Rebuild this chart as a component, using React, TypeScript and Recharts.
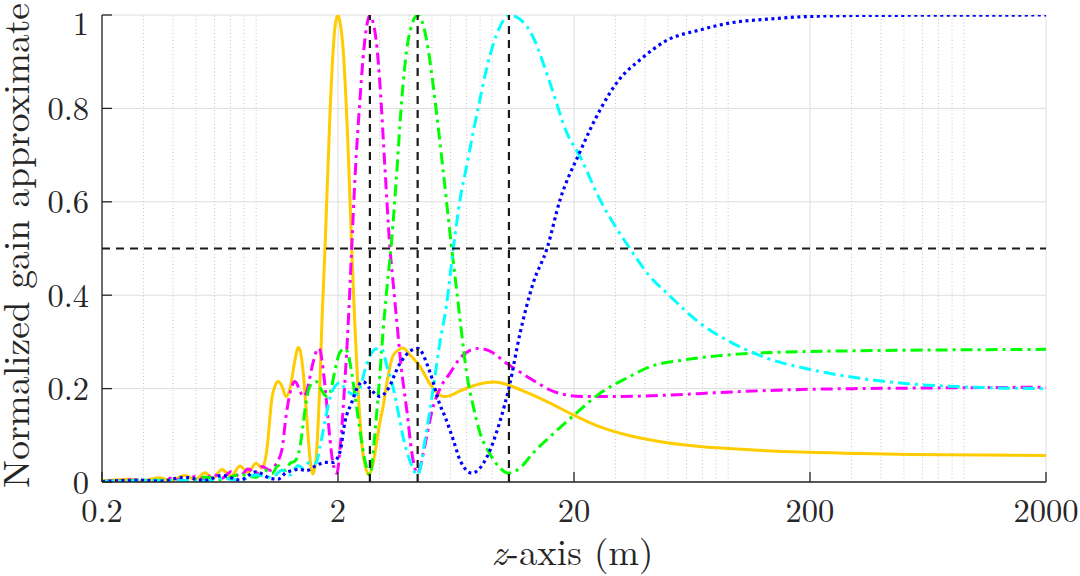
import React from 'react';
import { LineChart, Line, XAxis, YAxis, CartesianGrid, ReferenceLine } from 'recharts';

type P = [number, number];

// z-axis (m) tick values and gain tick values
const xTicks = [0.2, 2, 20, 200, 2000];
const yTicks = [0, 0.2, 0.4, 0.6, 0.8, 1];
const xMinor = [
  0.3, 0.4, 0.5, 0.6, 0.7, 0.8, 0.9,
  3, 4, 5, 6, 7, 8, 9,
  30, 40, 50, 60, 70, 80, 90,
  300, 400, 500, 600, 700, 800, 900,
];
// vertical dashed markers (z) and horizontal dashed level (gain)
const focusZ = [2.73, 4.35, 10.6];
const halfGain = 0.5;

// [z, normalized gain]
const goldSeries: P[] = [
  [0.2, 0.002], [0.263, 0.006], [0.29, 0.002], [0.352, 0.009], [0.388, 0.003], [0.449, 0.014],
  [0.496, 0.005], [0.546, 0.02], [0.59, 0.008], [0.645, 0.027], [0.704, 0.013], [0.769, 0.034],
  [0.831, 0.02], [0.899, 0.04], [0.953, 0.03], [0.981, 0.045], [1.01, 0.09], [1.03, 0.14],
  [1.05, 0.18], [1.081, 0.205], [1.114, 0.215], [1.158, 0.205], [1.204, 0.183], [1.252, 0.2],
  [1.315, 0.262], [1.354, 0.288], [1.38, 0.283], [1.421, 0.24], [1.464, 0.16], [1.522, 0.05],
  [1.567, 0.017], [1.614, 0.05], [1.678, 0.22], [1.711, 0.347], [1.762, 0.5], [1.85, 0.79],
  [1.905, 0.92], [1.943, 0.975], [2.0, 1.0], [2.039, 0.985], [2.1, 0.93], [2.205, 0.72],
  [2.286, 0.5], [2.36, 0.33], [2.431, 0.2], [2.553, 0.06], [2.71, 0.015], [2.814, 0.04],
  [3.013, 0.13], [3.102, 0.16], [3.216, 0.21], [3.42, 0.27], [3.662, 0.285], [3.771, 0.287],
  [4.038, 0.272], [4.452, 0.247], [4.908, 0.21], [5.41, 0.186], [5.681, 0.183], [5.965, 0.185],
  [6.576, 0.195], [7.393, 0.205], [8.56, 0.213], [9.2, 0.214], [10.64, 0.207], [11.81, 0.198],
  [13.41, 0.186], [15.83, 0.169], [20, 0.143], [25.8, 0.118], [34.5, 0.099], [49.6, 0.084],
  [68.4, 0.076], [111, 0.069], [181, 0.064], [326, 0.061], [530, 0.059], [2000, 0.057],
];

const magentaSeries: P[] = [
  [0.2, 0.001], [0.29, 0.004], [0.352, 0.002], [0.388, 0.008], [0.449, 0.003], [0.496, 0.012],
  [0.546, 0.005], [0.59, 0.017], [0.645, 0.008], [0.704, 0.022], [0.769, 0.012], [0.831, 0.028],
  [0.899, 0.018], [0.953, 0.033], [1.03, 0.025], [1.097, 0.04], [1.158, 0.07], [1.204, 0.14],
  [1.252, 0.19], [1.315, 0.215], [1.38, 0.195], [1.421, 0.183], [1.464, 0.19], [1.567, 0.255],
  [1.646, 0.286], [1.678, 0.283], [1.711, 0.26], [1.797, 0.16], [1.85, 0.09], [1.905, 0.04],
  [1.98, 0.019], [2.039, 0.07], [2.142, 0.22], [2.205, 0.33], [2.286, 0.5], [2.36, 0.65],
  [2.479, 0.82], [2.578, 0.93], [2.654, 0.98], [2.733, 1.0], [2.814, 0.985], [2.926, 0.93],
  [3.013, 0.85], [3.164, 0.67], [3.321, 0.5], [3.42, 0.43], [3.556, 0.34], [3.698, 0.25],
  [3.922, 0.15], [4.118, 0.06], [4.353, 0.018], [4.452, 0.03], [4.674, 0.08], [5.053, 0.16],
  [5.41, 0.2], [5.965, 0.233], [6.576, 0.265], [7.25, 0.282], [7.862, 0.286], [8.81, 0.28],
  [10.37, 0.254], [11.43, 0.24], [13.41, 0.218], [15.83, 0.197], [18.68, 0.186], [21.8, 0.183],
  [30.4, 0.183], [49.6, 0.186], [94.3, 0.193], [181, 0.198], [530, 0.201], [2000, 0.203],
];

const greenSeries: P[] = [
  [0.2, 0.001], [0.352, 0.004], [0.449, 0.002], [0.546, 0.01], [0.645, 0.005], [0.769, 0.016],
  [0.899, 0.01], [0.981, 0.025], [1.05, 0.018], [1.114, 0.035], [1.204, 0.025], [1.252, 0.04],
  [1.315, 0.045], [1.38, 0.075], [1.421, 0.12], [1.464, 0.17], [1.522, 0.205], [1.614, 0.215],
  [1.711, 0.195], [1.797, 0.183], [1.85, 0.19], [1.943, 0.24], [2.039, 0.278], [2.142, 0.286],
  [2.205, 0.275], [2.293, 0.23], [2.384, 0.17], [2.479, 0.11], [2.603, 0.045], [2.733, 0.015],
  [2.814, 0.06], [2.897, 0.13], [3.013, 0.233], [3.102, 0.32], [3.216, 0.41], [3.377, 0.518],
  [3.523, 0.64], [3.724, 0.818], [3.909, 0.925], [4.118, 0.98], [4.353, 1.0], [4.584, 0.98],
  [4.827, 0.925], [5.152, 0.818], [5.571, 0.67], [6.065, 0.5], [6.368, 0.41], [6.641, 0.33],
  [7.02, 0.233], [7.464, 0.165], [7.993, 0.105], [8.81, 0.06], [9.714, 0.03], [10.53, 0.019],
  [11.81, 0.03], [13.41, 0.062], [15.83, 0.097], [20, 0.143], [25.8, 0.19], [34.2, 0.225],
  [42, 0.247], [57.9, 0.261], [94.3, 0.273], [181, 0.279], [326, 0.281], [2000, 0.284],
];

const cyanSeries: P[] = [
  [0.2, 0.001], [0.449, 0.003], [0.546, 0.002], [0.645, 0.008], [0.769, 0.004], [0.899, 0.015],
  [1.05, 0.01], [1.158, 0.025], [1.252, 0.015], [1.354, 0.035], [1.421, 0.03], [1.522, 0.043],
  [1.614, 0.04], [1.678, 0.076], [1.762, 0.13], [1.85, 0.18], [1.943, 0.205], [2.039, 0.213],
  [2.142, 0.2], [2.286, 0.188], [2.36, 0.186], [2.479, 0.2], [2.603, 0.24], [2.733, 0.27],
  [2.897, 0.285], [3.013, 0.286], [3.102, 0.28], [3.216, 0.25], [3.42, 0.204], [3.662, 0.13],
  [3.771, 0.097], [4.038, 0.045], [4.353, 0.015], [4.674, 0.09], [5.053, 0.197], [5.41, 0.3],
  [5.75, 0.375], [6.161, 0.5], [6.576, 0.604], [7.041, 0.68], [7.464, 0.747], [7.993, 0.82],
  [8.56, 0.889], [9.714, 0.975], [10.64, 1.0], [12.65, 0.975], [13.41, 0.953], [15.83, 0.854],
  [18.68, 0.747], [21.2, 0.697], [25.8, 0.604], [34.5, 0.5], [42, 0.44], [49.6, 0.404],
  [68.4, 0.34], [94.3, 0.297], [131.5, 0.265], [200, 0.241], [326, 0.222], [530, 0.21],
  [864, 0.204], [2000, 0.2],
];

const blueSeries: P[] = [
  [0.2, 0.001], [0.29, 0.004], [0.352, 0.002], [0.449, 0.01], [0.546, 0.003], [0.645, 0.014],
  [0.769, 0.004], [0.899, 0.022], [1.03, 0.008], [1.114, 0.006], [1.204, 0.02], [1.38, 0.027],
  [1.464, 0.024], [1.614, 0.035], [1.762, 0.042], [1.905, 0.042], [2.039, 0.065], [2.142, 0.13],
  [2.286, 0.17], [2.431, 0.205], [2.553, 0.215], [2.733, 0.2], [3.013, 0.183], [3.216, 0.195],
  [3.662, 0.254], [4.038, 0.28], [4.353, 0.286], [4.908, 0.235], [5.41, 0.165], [5.681, 0.14],
  [6.161, 0.09], [6.576, 0.047], [7.393, 0.019], [7.993, 0.03], [8.56, 0.054], [9.714, 0.13],
  [10.64, 0.205], [11.81, 0.318], [13.41, 0.425], [15.37, 0.5], [17.45, 0.604], [21.2, 0.707],
  [25.8, 0.797], [31, 0.861], [38.1, 0.904], [49.6, 0.946], [68.4, 0.968], [94.3, 0.984],
  [131.5, 0.991], [181, 0.996], [326, 0.999], [2000, 1.0],
];

const toPts = (a: P[]) => a.map(([z, g]) => ({ z, g }));

const FONT = "'Latin Modern Roman'";
const AXIS = '#262626';
const DASHDOT = '12 5 3 5';

const series = [
  { name: 'gold', data: goldSeries, color: '#FFCC00', dash: undefined as string | undefined, w: 3 },
  { name: 'magenta', data: magentaSeries, color: '#FF00FF', dash: DASHDOT, w: 3 },
  { name: 'green', data: greenSeries, color: '#00FF00', dash: DASHDOT, w: 3 },
  { name: 'cyan', data: cyanSeries, color: '#00FFFF', dash: DASHDOT, w: 3 },
  { name: 'blue', data: blueSeries, color: '#0000FF', dash: '3 3.5', w: 3.2 },
];

export default function App() {
  const tickStyle = { fill: AXIS, fontSize: 32.5, style: { fontFamily: FONT } };
  return (
    <div style={{ position: 'absolute', left: 0, top: 0, width: 1080, height: 576, background: '#fff' }}>
      <LineChart width={1080} height={576} margin={{ top: 15, right: 34, bottom: 0, left: 0 }}>
        <CartesianGrid stroke="#dedede" strokeWidth={1} />
        {xMinor.map((v) => (
          <ReferenceLine key={'m' + v} x={v} stroke="#c4c4c4" strokeWidth={1} strokeDasharray="1 2.5" />
        ))}
        <XAxis
          dataKey="z"
          type="number"
          scale="log"
          domain={[0.2, 2000]}
          ticks={xTicks}
          allowDataOverflow
          height={94}
          tickSize={-10}
          tickMargin={26.5}
          tick={tickStyle}
          axisLine={{ stroke: AXIS, strokeWidth: 1.3 }}
          tickLine={{ stroke: AXIS, strokeWidth: 1.3 }}
        />
        <XAxis
          xAxisId="top"
          orientation="top"
          dataKey="z"
          type="number"
          scale="log"
          domain={[0.2, 2000]}
          ticks={xTicks}
          allowDataOverflow
          height={0}
          tickSize={-10}
          tickFormatter={() => ''}
          axisLine={{ stroke: AXIS, strokeWidth: 1.3 }}
          tickLine={{ stroke: AXIS, strokeWidth: 1.3 }}
        />
        <YAxis
          type="number"
          domain={[0, 1]}
          ticks={yTicks}
          allowDataOverflow
          width={102}
          tickSize={-10}
          tickMargin={23}
          tick={tickStyle}
          axisLine={{ stroke: AXIS, strokeWidth: 1.3 }}
          tickLine={{ stroke: AXIS, strokeWidth: 1.3 }}
        />
        <YAxis
          yAxisId="right"
          orientation="right"
          type="number"
          domain={[0, 1]}
          ticks={yTicks}
          allowDataOverflow
          width={0}
          tickSize={-10}
          tickFormatter={() => ''}
          axisLine={{ stroke: AXIS, strokeWidth: 1.3 }}
          tickLine={{ stroke: AXIS, strokeWidth: 1.3 }}
        />
        {series.map((s) => (
          <Line
            key={s.name}
            data={toPts(s.data)}
            dataKey="g"
            type="monotone"
            stroke={s.color}
            strokeWidth={s.w}
            strokeDasharray={s.dash}
            dot={false}
            activeDot={false}
            isAnimationActive={false}
          />
        ))}
        {focusZ.map((v) => (
          <ReferenceLine key={'f' + v} x={v} stroke="#1a1a1a" strokeWidth={2.2} strokeDasharray="8 6" />
        ))}
        <ReferenceLine y={halfGain} stroke="#1a1a1a" strokeWidth={2.2} strokeDasharray="8 6" />
      </LineChart>
      <svg
        width={1080}
        height={576}
        style={{ position: 'absolute', left: 0, top: 0, pointerEvents: 'none' }}
      >
        <text
          transform="translate(29,245.5) rotate(-90)"
          textAnchor="middle"
          style={{ fontFamily: FONT }}
          fontSize={36.5}
          fill={AXIS}
          textLength={485}
          lengthAdjust="spacingAndGlyphs"
        >
          Normalized gain approximate
        </text>
        <text
          x={572.5}
          y={565}
          textAnchor="middle"
          style={{ fontFamily: FONT }}
          fontSize={36.5}
          fill={AXIS}
          textLength={162}
          lengthAdjust="spacingAndGlyphs"
        >
          <tspan fontStyle="italic">z</tspan>-axis (m)
        </text>
      </svg>
    </div>
  );
}
